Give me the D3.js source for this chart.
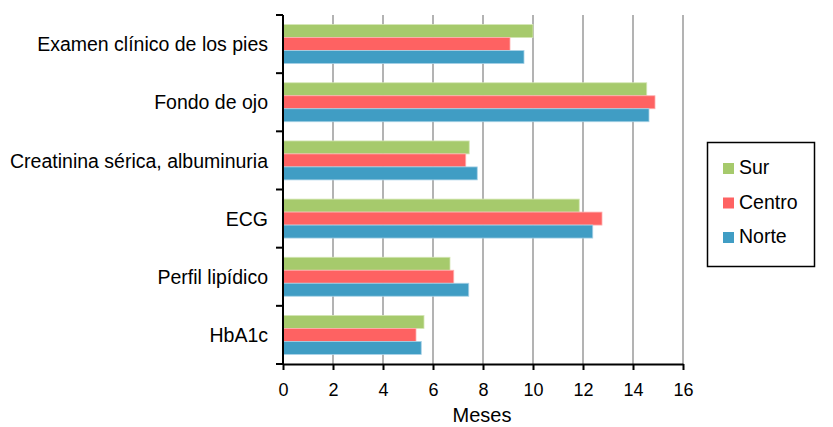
<!DOCTYPE html>
<html>
<head>
<meta charset="utf-8">
<script src="https://cdn.jsdelivr.net/npm/d3@7"></script>
<style>
  body { margin: 0; background: #fff; }
  text { font-family: "Liberation Sans", Arial, sans-serif; fill: #000; }
</style>
</head>
<body>
<svg width="833" height="427"></svg>
<script>
// categories, top to bottom
let categories = ["Examen clínico de los pies", "Fondo de ojo", "Creatinina sérica, albuminuria", "ECG", "Perfil lipídico", "HbA1c"];
let series = ["Sur", "Centro", "Norte"];
let sur    = [10.0, 14.55, 7.45, 11.85, 6.68, 5.64];
let centro = [9.08, 14.88, 7.31, 12.76, 6.83, 5.32];
let norte  = [9.64, 14.64, 7.77, 12.39, 7.43, 5.53];
let xTicks = [0, 2, 4, 6, 8, 10, 12, 14, 16];
let colors = ["#a6ca6c", "#fe6262", "#409dc4"];
let strokes = ["#d4e6b5", "#ffb0b0", "#a8d2e6"];

let values = [sur, centro, norte];

let svg = d3.select('svg');

let plotLeft = 283, plotRight = 683, plotTop = 15, plotBottom = 364;

let x = d3.scaleLinear().domain([0, 16]).range([plotLeft, plotRight]);
let y = d3.scaleBand().domain(categories).range([plotTop, plotBottom]).paddingInner(0.33).paddingOuter(0.165);
let inner = d3.scaleBand().domain(series).range([0, y.bandwidth()]);

// gridlines
svg.append('g')
  .selectAll('line')
  .data(xTicks.slice(1))
  .enter()
  .append('line')
  .attr('x1', d => x(d)).attr('x2', d => x(d))
  .attr('y1', plotTop).attr('y2', plotBottom)
  .attr('stroke', '#9a9a9a')
  .attr('stroke-width', 1.5);

// bars
series.forEach((s, si) => {
  svg.append('g')
    .selectAll('rect')
    .data(categories)
    .enter()
    .append('rect')
    .attr('x', x(0))
    .attr('y', d => y(d) + inner(s))
    .attr('width', (d, i) => x(values[si][i]) - x(0))
    .attr('height', inner.bandwidth())
    .attr('fill', colors[si])
    .attr('stroke', strokes[si])
    .attr('stroke-width', 0.8);
});

// x axis
let xAxis = d3.axisBottom(x).tickValues(xTicks).tickSize(6).tickSizeOuter(0).tickPadding(13);
let gx = svg.append('g').attr('transform', `translate(0,${plotBottom})`).call(xAxis);
gx.select('.domain').attr('stroke', '#000').attr('stroke-width', 2);
gx.selectAll('.tick line').attr('stroke', '#000').attr('stroke-width', 2);
gx.selectAll('text').style('font-size', '18px').attr('font-family', null);

// y axis with ticks at band boundaries
svg.append('line')
  .attr('x1', plotLeft).attr('x2', plotLeft)
  .attr('y1', plotTop).attr('y2', plotBottom + 1)
  .attr('stroke', '#000').attr('stroke-width', 2);
svg.append('g')
  .selectAll('line')
  .data(d3.range(categories.length + 1).map(i => plotTop + i * (plotBottom - plotTop) / categories.length))
  .enter()
  .append('line')
  .attr('x1', plotLeft - 7).attr('x2', plotLeft)
  .attr('y1', d => d).attr('y2', d => d)
  .attr('stroke', '#000').attr('stroke-width', 2);

// category labels
svg.append('g')
  .selectAll('text')
  .data(categories)
  .enter()
  .append('text')
  .attr('x', 268)
  .attr('y', d => y(d) + y.bandwidth() / 2)
  .attr('dy', '0.37em')
  .attr('text-anchor', 'end')
  .style('font-size', '19.5px')
  .text(d => d);

// axis title
svg.append('text')
  .attr('x', 482)
  .attr('y', 421.5)
  .attr('text-anchor', 'middle')
  .style('font-size', '20px')
  .text('Meses');

// legend
let lg = svg.append('g');
lg.append('rect')
  .attr('x', 707.5).attr('y', 142.5)
  .attr('width', 107).attr('height', 124)
  .attr('fill', '#fff').attr('stroke', '#000').attr('stroke-width', 1.5);
let ly = d3.scalePoint().domain(series).range([174, 243]);
series.forEach((s, si) => {
  lg.append('rect')
    .attr('x', 723).attr('y', ly(s) - 11)
    .attr('width', 11).attr('height', 11)
    .attr('fill', colors[si]);
  lg.append('text')
    .attr('x', 739).attr('y', ly(s))
    .style('font-size', '19.5px')
    .text(s);
});
</script>
</body>
</html>
